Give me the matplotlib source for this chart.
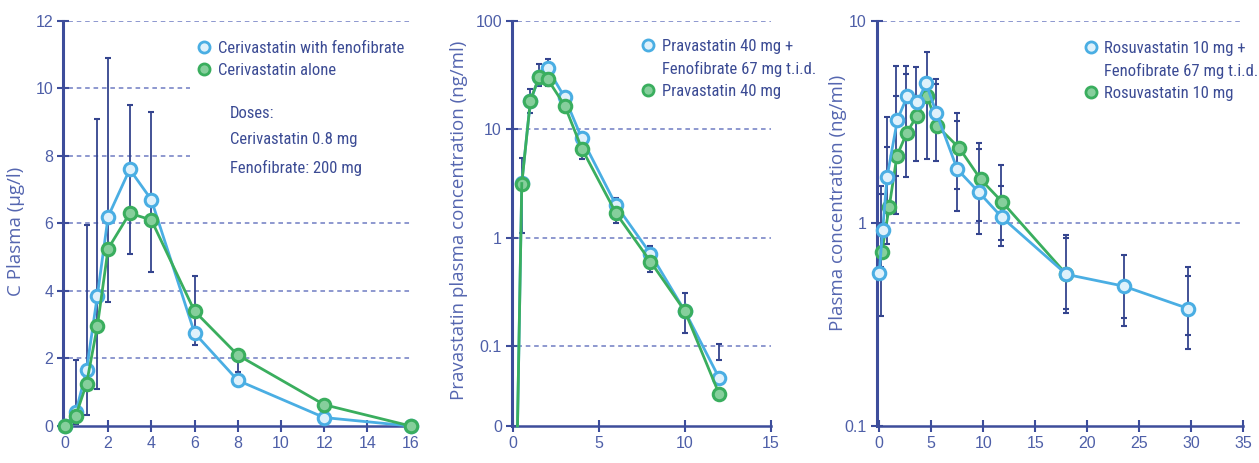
import numpy as np
import matplotlib
matplotlib.use("Agg")
import matplotlib.pyplot as plt
from matplotlib.lines import Line2D
from matplotlib.patches import Rectangle
from matplotlib.ticker import NullLocator

plt.rcParams['font.family'] = ['Liberation Sans', 'DejaVu Sans']
NARROW = ['Roboto Condensed', 'DejaVu Sans']
WIDE = ['Open Sans', 'DejaVu Sans']

# ---- panel 1: cerivastatin (linear axis)
t1 = [0, 0.5, 1, 1.5, 2, 3, 4, 6, 8, 12, 16]
ceri_feno = [0, 0.4, 1.65, 3.85, 6.2, 7.6, 6.7, 2.75, 1.35, 0.25, 0]
ceri_alone = [0, 0.3, 1.25, 2.95, 5.25, 6.3, 6.1, 3.4, 2.1, 0.63, 0]
err_t1 = [0.5, 1, 1.5, 2, 3, 4, 6, 8]
err_hi1 = [1.95, 5.95, 9.1, 10.9, 9.5, 9.3, 4.45, 2.05]
err_lo1 = [0.05, 0.33, 1.1, 3.68, 5.1, 4.57, 2.4, 1.6]

# ---- panel 2: pravastatin (0 + log decades)
t2 = [0.25, 0.5, 1, 1.5, 2, 3, 4, 6, 8, 10, 12]
prava_feno = [0, 3.2, 18, 30, 36.5, 19.6, 8.2, 1.98, 0.71, 0.21, 0.06]
prava_alone = [0, 3.15, 18.3, 30, 29, 16.5, 6.6, 1.67, 0.6, 0.21, 0.04]
err_t2 = [0.5, 1, 1.5, 2, 4, 6, 8, 10, 12]
err_hi2 = [5.4, 23.5, 39.5, 44, 9.0, 2.3, 0.83, 0.31, 0.104]
err_lo2 = [1.1, 14, 24.8, 24.8, 5.3, 1.37, 0.48, 0.133, 0.083]

# ---- panel 3: rosuvastatin (log axis)
t3_feno = [0, 0.33, 0.75, 1.75, 2.7, 3.65, 4.5, 5.5, 7.5, 9.6, 11.8, 18, 23.5, 29.7]
rosu_feno = [0.57, 0.93, 1.69, 3.25, 4.25, 3.95, 4.9, 3.5, 1.85, 1.42, 1.07, 0.56, 0.49, 0.38]
t3_alone = [0.25, 0.95, 1.7, 2.65, 3.6, 4.6, 5.55, 7.7, 9.75, 11.85, 18]
rosu_alone = [0.72, 1.2, 2.15, 2.8, 3.38, 4.27, 3.03, 2.35, 1.65, 1.27, 0.56]
err_t3 = [0.2, 0.7, 1.6, 2.6, 3.5, 4.55, 5.5, 7.45, 9.6, 11.75, 18, 23.5, 29.7]
err_hi3 = [1.53, 3.34, 5.96, 6.0, 5.9, 6.98, 5.16, 3.49, 2.5, 1.94, 0.88, 0.70, 0.61]
err_lo3 = [0.35, 0.79, 1.11, 1.69, 2.03, 2.07, 2.03, 1.15, 0.89, 0.77, 0.36, 0.31, 0.24]
err_hi3b = [1.39, 2.38, 4.26, 5.47, np.nan, np.nan, 4.87, 3.2, 2.32, 1.53, 0.85, np.nan, 0.55]
err_lo3b = [0.61, 1.15, 1.71, np.nan, np.nan, np.nan, np.nan, 1.47, 1.03, 0.83, 0.38, 0.34, 0.28]

BLUE = '#4aaee3'
BLUE_FACE = '#dff1fb'
GREEN = '#3aae5e'
GREEN_FACE = '#86cf9c'
NAVY = '#34448e'
SPINE = '#3d4d9b'
TXT = '#3b4b94'
GRID = '#6f7cc2'

fig = plt.figure(figsize=(12.59, 4.63), dpi=100)
ax1 = fig.add_axes([0.0500, 0.0799, 0.2762, 0.8754])
ax2 = fig.add_axes([0.4064, 0.0799, 0.2057, 0.8754])
ax3 = fig.add_axes([0.6963, 0.0799, 0.2912, 0.8754])


def style(ax):
    for s in ['top', 'right']:
        ax.spines[s].set_visible(False)
    ax.spines['left'].set_color(SPINE)
    ax.spines['left'].set_linewidth(2.2)
    ax.spines['bottom'].set_color(SPINE)
    ax.spines['bottom'].set_linewidth(1.8)
    ax.tick_params(direction='inout', length=8, width=1.5, color=SPINE,
                   labelsize=11.5, labelcolor='#4e5fa8', pad=3)
    ax.set_facecolor('none')


def bars(ax, t, lo, hi):
    ax.vlines(t, lo, hi, color=NAVY, lw=1.3, zorder=2)
    ax.plot(t, hi, ls='none', marker='_', ms=5, mew=1.5, color=NAVY, zorder=2)
    ax.plot(t, lo, ls='none', marker='_', ms=5, mew=1.5, color=NAVY, zorder=2)


def curve(ax, t, y, col, face, z):
    ax.plot(t, y, color=col, lw=2.0, marker='o', ms=9, mfc=face, mec=col,
            mew=2.2, zorder=z, clip_on=False)


def ylab(ax, text, x, y):
    ax.set_ylabel(text, fontsize=13.5, color='#5566b0', family=WIDE)
    ax.yaxis.set_label_coords(x, y)


def legend(ax, labels, x, y):
    handles = []
    for lab in labels:
        if lab[1] is None:
            handles.append(Line2D([], [], ls='none'))
        else:
            handles.append(Line2D([], [], ls='none', marker='o', ms=8,
                                  mfc=lab[2], mec=lab[1], mew=2))
    leg = ax.legend(handles, [lab[0] for lab in labels], loc='upper left',
                    bbox_to_anchor=(x, y), frameon=False, handlelength=0.7,
                    handletextpad=0.45, borderpad=0, borderaxespad=0,
                    labelspacing=0.42, prop={'family': NARROW, 'size': 12})
    for tx in leg.get_texts():
        tx.set_color(TXT)
    return leg


# ---------------- panel 1
style(ax1)
ax1.set_xlim(-0.09, 16)
ax1.set_ylim(0, 12)
ax1.set_xticks(range(0, 17, 2))
ax1.set_yticks(range(0, 13, 2))
for v in range(2, 13, 2):
    ax1.axhline(v, color=GRID, lw=1.1, ls=(2, (3, 2.5)), zorder=1)
ax1.add_patch(Rectangle((0.365, 0.595), 0.64, 0.38, transform=ax1.transAxes,
                        facecolor='white', edgecolor='none', zorder=1.5))
bars(ax1, err_t1, err_lo1, err_hi1)
curve(ax1, t1, ceri_feno, BLUE, BLUE_FACE, 3)
curve(ax1, t1, ceri_alone, GREEN, GREEN_FACE, 4)
ylab(ax1, 'C Plasma (µg/l)', -0.109, 0.48)
legend(ax1, [('Cerivastatin with fenofibrate', BLUE, BLUE_FACE),
             ('Cerivastatin alone', GREEN, GREEN_FACE)], 0.39, 0.95)
for txt, yy in [('Doses:', 0.77), ('Cerivastatin 0.8 mg', 0.706),
                ('Fenofibrate: 200 mg', 0.637)]:
    ax1.text(0.48, yy, txt, transform=ax1.transAxes, va='center', ha='left',
             fontsize=12, color=TXT, family=NARROW)

# ---------------- panel 2
style(ax2)
ax2.set_yscale('symlog', linthresh=0.1, linscale=0.664, base=10)
ax2.set_xlim(-0.09, 15)
ax2.set_ylim(0, 100)
ax2.set_xticks([0, 5, 10, 15])
ax2.set_yticks([0, 0.1, 1, 10, 100])
ax2.set_yticklabels(['0', '0.1', '1', '10', '100'])
ax2.yaxis.set_minor_locator(NullLocator())
for v in [0.1, 1, 10, 100]:
    ax2.axhline(v, color=GRID, lw=1.1, ls=(2, (3, 2.5)), zorder=1)
bars(ax2, err_t2, err_lo2, err_hi2)
curve(ax2, t2[1:], prava_feno[1:], BLUE, BLUE_FACE, 3)
ax2.plot(t2[:2], prava_feno[:2], color=BLUE, lw=2.0, zorder=3, clip_on=False)
curve(ax2, t2[1:], prava_alone[1:], GREEN, GREEN_FACE, 4)
ax2.plot(t2[:2], prava_alone[:2], color=GREEN, lw=2.0, zorder=4, clip_on=False)
ylab(ax2, 'Pravastatin plasma concentration (ng/ml)', -0.169, 0.507)
legend(ax2, [('Pravastatin 40 mg +', BLUE, BLUE_FACE),
             ('Fenofibrate 67 mg t.i.d.', None, None),
             ('Pravastatin 40 mg', GREEN, GREEN_FACE)], 0.505, 0.955)

# ---------------- panel 3
style(ax3)
ax3.set_yscale('log')
ax3.set_xlim(-0.25, 35)
ax3.set_ylim(0.1, 10)
ax3.set_xticks(range(0, 36, 5))
ax3.set_yticks([0.1, 1, 10])
ax3.set_yticklabels(['0.1', '1', '10'])
ax3.yaxis.set_minor_locator(NullLocator())
for v in [1, 10]:
    ax3.axhline(v, color=GRID, lw=1.1, ls=(2, (3, 2.5)), zorder=1)
bars(ax3, err_t3, err_lo3, err_hi3)
ax3.plot(err_t3, err_hi3b, ls='none', marker='_', ms=5, mew=1.5, color=NAVY, zorder=2)
ax3.plot(err_t3, err_lo3b, ls='none', marker='_', ms=5, mew=1.5, color=NAVY, zorder=2)
curve(ax3, t3_alone, rosu_alone, GREEN, GREEN_FACE, 3)
curve(ax3, t3_feno, rosu_feno, BLUE, BLUE_FACE, 4)
ylab(ax3, 'Plasma concentration (ng/ml)', -0.08, 0.55)
legend(ax3, [('Rosuvastatin 10 mg +', BLUE, BLUE_FACE),
             ('Fenofibrate 67 mg t.i.d.', None, None),
             ('Rosuvastatin 10 mg', GREEN, GREEN_FACE)], 0.568, 0.95)

fig.savefig('out.png', dpi=100)
